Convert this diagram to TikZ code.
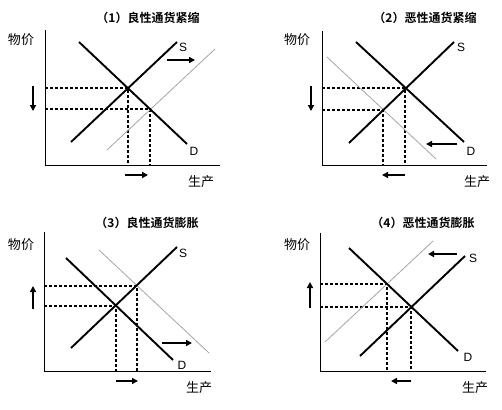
\documentclass[tikz,border=0pt]{standalone}
\usepackage{fontspec}
\setmainfont{Noto Sans CJK SC}[BoldFont={Noto Sans CJK SC Bold}]
\newfontfamily\latinf{Liberation Sans}
\usetikzlibrary{arrows.meta}
\begin{document}
\begin{tikzpicture}[x=1pt,y=-1pt,
  axisline/.style={line width=1pt},
  curve/.style={line width=1.9pt},
  shiftline/.style={line width=0.8pt, color=black!35},
  guide/.style={line width=1.8pt, dash pattern=on 3pt off 2pt},
  move/.style={line width=1.6pt, -{Triangle[length=6pt,width=6pt]}},
  ttl/.style={font=\bfseries\fontsize{12}{12}\selectfont, inner sep=0pt},
  axl/.style={font=\fontsize{13}{13}\selectfont, inner sep=0pt},
  sd/.style={font=\latinf\fontsize{12}{12}\selectfont, inner sep=0pt}]
\useasboundingbox[fill=white] (0,0) rectangle (502,409);

% ---------- Panel 1 ----------
\node[ttl] (t1) at (148,18) {（1）良性通货紧缩};
\node[axl] (py1) at (21,40) {物价};
\node[axl] (px1) at (201,182) {生产};
\coordinate (top1) at (45,30); \coordinate (o1) at (45,165); \coordinate (end1) at (220,165);
\draw[axisline] (top1) -- (o1) -- (end1);
\coordinate (s1a) at (71,142); \coordinate (s1b) at (177,42);
\coordinate (d1a) at (79,42); \coordinate (d1b) at (187,144);
\coordinate (n1a) at (107,150); \coordinate (n1b) at (215,49);
\coordinate (p1a) at (128,88);
\coordinate (p1b) at (150,109);
\draw[guide] (p1a -| o1) -- (p1a) -- (p1a |- o1);
\draw[guide] (p1b -| o1) -- (p1b) -- (p1b |- o1);
\draw[shiftline] (n1a) -- (n1b);
\draw[curve] (s1a) -- (s1b);
\draw[curve] (d1a) -- (d1b);
\node[sd] (S1) at (183,47) {S};
\node[sd] (D1) at (194,151) {D};
\coordinate (a1a) at (167,60); \coordinate (a1b) at (195,60);
\draw[move] (a1a) -- (a1b);
\coordinate (v1a) at (33,86); \coordinate (v1b) at (33,111);
\draw[move] (v1a) -- (v1b);
\coordinate (h1a) at (125,175); \coordinate (h1b) at (148,175);
\draw[move] (h1a) -- (h1b);

% ---------- Panel 2 ----------
\node[ttl] (t2) at (425,18) {（2）恶性通货紧缩};
\node[axl] (py2) at (297,40) {物价};
\node[axl] (px2) at (477,182) {生产};
\coordinate (top2) at (322,31); \coordinate (o2) at (322,165); \coordinate (end2) at (487,165);
\draw[axisline] (top2) -- (o2) -- (end2);
\coordinate (s2a) at (349,143); \coordinate (s2b) at (454,42);
\coordinate (d2a) at (356,42); \coordinate (d2b) at (464,142);
\coordinate (n2a) at (327,57); \coordinate (n2b) at (436,159);
\coordinate (p2a) at (405,88);
\coordinate (p2b) at (383,110);
\draw[guide] (p2a -| o2) -- (p2a) -- (p2a |- o2);
\draw[guide] (p2b -| o2) -- (p2b) -- (p2b |- o2);
\draw[shiftline] (n2a) -- (n2b);
\draw[curve] (s2a) -- (s2b);
\draw[curve] (d2a) -- (d2b);
\node[sd] (S2) at (461,47) {S};
\node[sd] (D2) at (471,151) {D};
\coordinate (a2a) at (457,144); \coordinate (a2b) at (426,144);
\draw[move] (a2a) -- (a2b);
\coordinate (v2a) at (311,86); \coordinate (v2b) at (311,111);
\draw[move] (v2a) -- (v2b);
\coordinate (h2a) at (405,175); \coordinate (h2b) at (382,175);
\draw[move] (h2a) -- (h2b);

% ---------- Panel 3 ----------
\node[ttl] (t3) at (147,223) {（3）良性通货膨胀};
\node[axl] (py3) at (21,245) {物价};
\node[axl] (px3) at (199,388) {生产};
\coordinate (top3) at (44,232); \coordinate (o3) at (44,371); \coordinate (end3) at (211,371);
\draw[axisline] (top3) -- (o3) -- (end3);
\coordinate (s3a) at (71,348); \coordinate (s3b) at (177,247);
\coordinate (d3a) at (66,258); \coordinate (d3b) at (173,360);
\coordinate (n3a) at (99,250); \coordinate (n3b) at (209,353);
\coordinate (p3a) at (116,306);
\coordinate (p3b) at (137,286);
\draw[guide] (p3a -| o3) -- (p3a) -- (p3a |- o3);
\draw[guide] (p3b -| o3) -- (p3b) -- (p3b |- o3);
\draw[shiftline] (n3a) -- (n3b);
\draw[curve] (s3a) -- (s3b);
\draw[curve] (d3a) -- (d3b);
\node[sd] (S3) at (183,253) {S};
\node[sd] (D3) at (182,365) {D};
\coordinate (a3a) at (162,343); \coordinate (a3b) at (192,343);
\draw[move] (a3a) -- (a3b);
\coordinate (v3a) at (33,309); \coordinate (v3b) at (33,286);
\draw[move] (v3a) -- (v3b);
\coordinate (h3a) at (116,381); \coordinate (h3b) at (138,381);
\draw[move] (h3a) -- (h3b);

% ---------- Panel 4 ----------
\node[ttl] (t4) at (423,223) {（4）恶性通货膨胀};
\node[axl] (py4) at (297,245) {物价};
\node[axl] (px4) at (475,388) {生产};
\coordinate (top4) at (320,233); \coordinate (o4) at (320,371); \coordinate (end4) at (486,371);
\draw[axisline] (top4) -- (o4) -- (end4);
\coordinate (s4a) at (360,356); \coordinate (s4b) at (465,256);
\coordinate (d4a) at (349,248); \coordinate (d4b) at (458,351);
\coordinate (n4a) at (325,342); \coordinate (n4b) at (433,241);
\coordinate (p4a) at (411,307);
\coordinate (p4b) at (387,284);
\draw[guide] (p4a -| o4) -- (p4a) -- (p4a |- o4);
\draw[guide] (p4b -| o4) -- (p4b) -- (p4b |- o4);
\draw[shiftline] (n4a) -- (n4b);
\draw[curve] (s4a) -- (s4b);
\draw[curve] (d4a) -- (d4b);
\node[sd] (S4) at (473,258) {S};
\node[sd] (D4) at (468,357) {D};
\coordinate (a4a) at (457,254); \coordinate (a4b) at (428,254);
\draw[move] (a4a) -- (a4b);
\coordinate (v4a) at (310,308); \coordinate (v4b) at (310,282);
\draw[move] (v4a) -- (v4b);
\coordinate (h4a) at (411,381); \coordinate (h4b) at (391,381);
\draw[move] (h4a) -- (h4b);
\end{tikzpicture}
\end{document}
